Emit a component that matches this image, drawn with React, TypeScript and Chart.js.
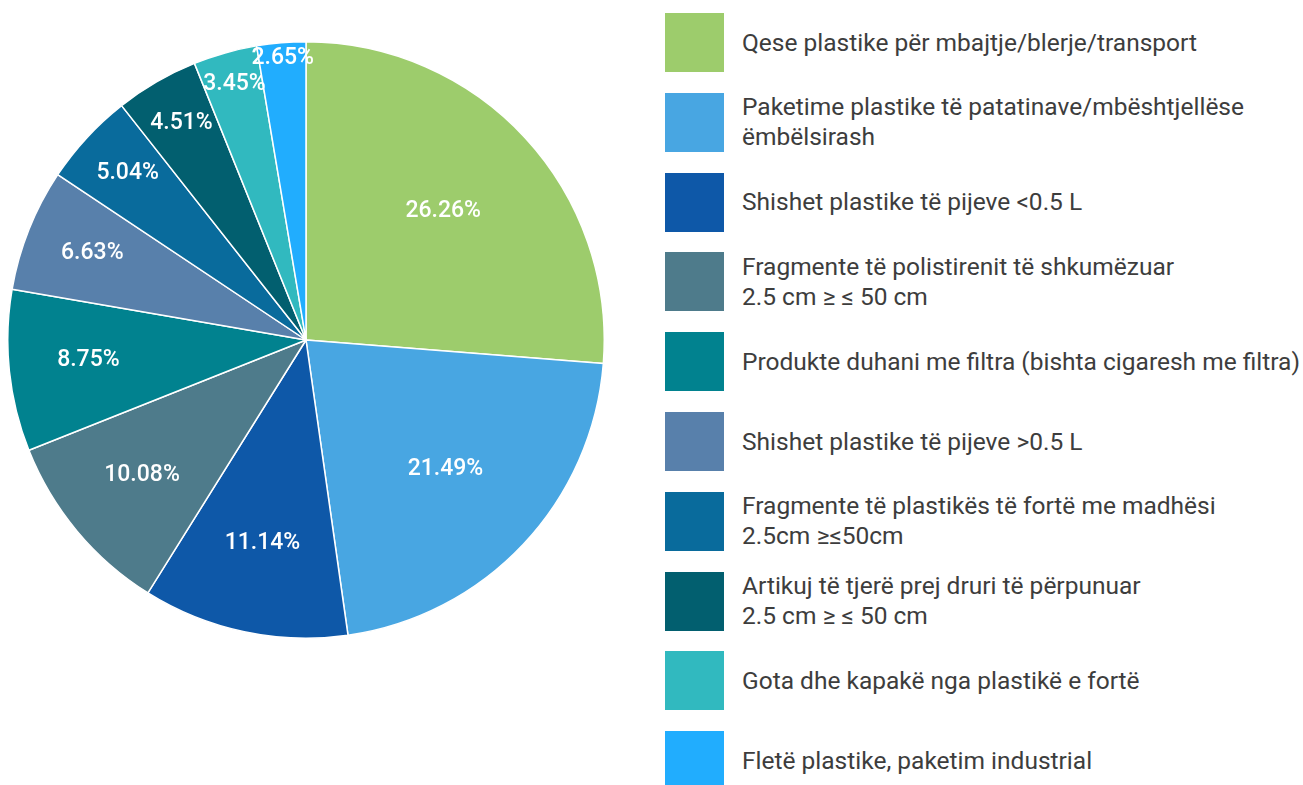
import React, { useEffect, useRef } from "react";
import { Chart, registerables } from "chart.js";

Chart.register(...registerables);

const categories: string[] = [
  "Qese plastike për mbajtje/blerje/transport",
  "Paketime plastike të patatinave/mbështjellëse\nëmbëlsirash",
  "Shishet plastike të pijeve <0.5 L",
  "Fragmente të polistirenit të shkumëzuar\n2.5 cm ≥ ≤ 50 cm",
  "Produkte duhani me filtra (bishta cigaresh me filtra)",
  "Shishet plastike të pijeve >0.5 L",
  "Fragmente të plastikës të fortë me madhësi\n2.5cm ≥≤50cm",
  "Artikuj të tjerë prej druri të përpunuar\n2.5 cm ≥ ≤ 50 cm",
  "Gota dhe kapakë nga plastikë e fortë",
  "Fletë plastike, paketim industrial",
];

const values: number[] = [26.26, 21.49, 11.14, 10.08, 8.75, 6.63, 5.04, 4.51, 3.45, 2.65];

const colors: string[] = [
  "#9DCC6C",
  "#48A6E2",
  "#0E58A8",
  "#4E7B8B",
  "#01828F",
  "#5880AB",
  "#096B9C",
  "#025F6F",
  "#31B9BF",
  "#21ADFE",
];

const FONT = 'Roboto, "DejaVu Sans Condensed", sans-serif';

const labelPlugin = {
  id: "pctLabels",
  afterDatasetsDraw(chart: any) {
    const ctx = chart.ctx;
    const meta = chart.getDatasetMeta(0);
    const data = chart.data.datasets[0].data as number[];
    const total = data.reduce((a, b) => a + b, 0);
    ctx.save();
    ctx.fillStyle = "#ffffff";
    ctx.font = `500 23px ${FONT}`;
    ctx.textAlign = "center";
    ctx.textBaseline = "middle";
    meta.data.forEach((arc: any, i: number) => {
      const p = arc.getProps(["x", "y", "startAngle", "endAngle", "outerRadius"], true);
      const mid = (p.startAngle + p.endAngle) / 2;
      const f = data[i] / total;
      const d = p.outerRadius * Math.min(0.94, 0.48 + 0.075 / Math.sqrt(f));
      const x = p.x + Math.cos(mid) * d;
      const y = p.y + Math.sin(mid) * d;
      ctx.fillText(data[i].toFixed(2) + "%", x, y - 2);
    });
    ctx.restore();
  },
};

export default function App() {
  const ref = useRef<HTMLCanvasElement | null>(null);

  useEffect(() => {
    if (!ref.current) return;
    const chart = new Chart(ref.current, {
      type: "pie",
      data: {
        labels: categories.map((c) => c.replace("\n", " ")),
        datasets: [
          {
            data: values,
            backgroundColor: colors,
            borderColor: "#ffffff",
            borderWidth: 1.5,
          },
        ],
      },
      options: {
        responsive: false,
        animation: false,
        layout: { padding: 0 },
        plugins: {
          legend: { display: false },
          tooltip: { enabled: false },
        },
      },
      plugins: [labelPlugin],
    });
    return () => chart.destroy();
  }, []);

  return (
    <div
      style={{
        position: "absolute",
        left: 0,
        top: 0,
        width: 1303,
        height: 785,
        background: "#ffffff",
        overflow: "hidden",
        fontFamily: FONT,
      }}
    >
      <canvas
        ref={ref}
        width={598}
        height={598}
        style={{ position: "absolute", left: 7, top: 41, width: 598, height: 598 }}
      />
      {categories.map((c, i) => {
        const top = 13 + i * 79.8;
        return (
          <div key={i}>
            <div
              style={{
                position: "absolute",
                left: 665,
                top,
                width: 59,
                height: 59,
                background: colors[i],
              }}
            />
            <div
              style={{
                position: "absolute",
                left: 742,
                top,
                height: 59,
                display: "flex",
                flexDirection: "column",
                justifyContent: "center",
                color: "#3d3d3d",
                fontSize: 24.5,
                fontWeight: 400,
                lineHeight: "30px",
                whiteSpace: "nowrap",
              }}
            >
              {c.split("\n").map((line, j) => (
                <div key={j}>{line}</div>
              ))}
            </div>
          </div>
        );
      })}
    </div>
  );
}
